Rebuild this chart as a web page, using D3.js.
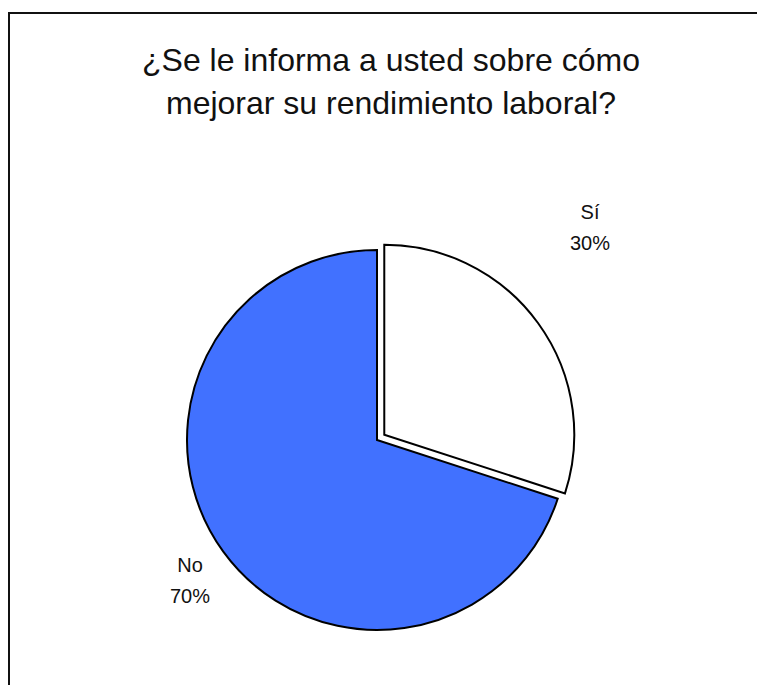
<!DOCTYPE html>
<html>
<head>
<meta charset="utf-8">
<script src="https://cdn.jsdelivr.net/npm/d3@7"></script>
<style>
  html, body { margin: 0; padding: 0; background: #fff; }
  svg { display: block; }
  text { font-family: "Liberation Sans", Arial, sans-serif; fill: #111; }
</style>
</head>
<body>
<script>
// Survey answers and their shares (percent)
const categories = ["Sí", "No"];
const values = [30, 70];
const sliceColors = ["#ffffff", "#4171ff"];
const titleLines = ["¿Se le informa a usted sobre cómo", "mejorar su rendimiento laboral?"];

const W = 757, H = 685;
const svg = d3.select("body").append("svg").attr("width", W).attr("height", H);

// Chart frame (continues past the bottom and right edges)
svg.append("rect")
  .attr("x", 9).attr("y", 13)
  .attr("width", 760).attr("height", 700)
  .attr("fill", "none").attr("stroke", "#111").attr("stroke-width", 2);

// Title
svg.append("text")
  .attr("x", 391).attr("y", 71)
  .attr("text-anchor", "middle")
  .style("font-size", "32px")
  .selectAll("tspan").data(titleLines).join("tspan")
  .attr("x", 391).attr("dy", (d, i) => i === 0 ? 0 : 43)
  .text(d => d);

const cx = 377, cy = 440, R = 190, explode = 9;

const pie = d3.pie().sort(null).value(d => d)(values);
const arc = d3.arc().innerRadius(0).outerRadius(R);

const g = svg.append("g").attr("transform", `translate(${cx},${cy})`);

g.selectAll("path.slice").data(pie).join("path")
  .attr("class", "slice")
  .attr("d", arc)
  .attr("fill", (d, i) => sliceColors[i])
  .attr("stroke", "#000")
  .attr("stroke-width", 2)
  .attr("stroke-linejoin", "miter")
  .attr("transform", (d, i) => {
    if (i !== 0) return null;
    const a = (d.startAngle + d.endAngle) / 2;
    return `translate(${explode * Math.sin(a)},${-explode * Math.cos(a)})`;
  });

// Data labels: category name over percentage
const labelPos = [
  [213, -221],   // Sí
  [-187, 132]    // No
];
const labels = g.selectAll("text.lbl").data(pie).join("text")
  .attr("class", "lbl")
  .attr("text-anchor", "middle")
  .style("font-size", "20px");
labels.append("tspan")
  .attr("x", (d, i) => labelPos[i][0])
  .attr("y", (d, i) => labelPos[i][1])
  .text((d, i) => categories[i]);
labels.append("tspan")
  .attr("x", (d, i) => labelPos[i][0])
  .attr("dy", 31)
  .text(d => d.data + "%");
</script>
</body>
</html>
